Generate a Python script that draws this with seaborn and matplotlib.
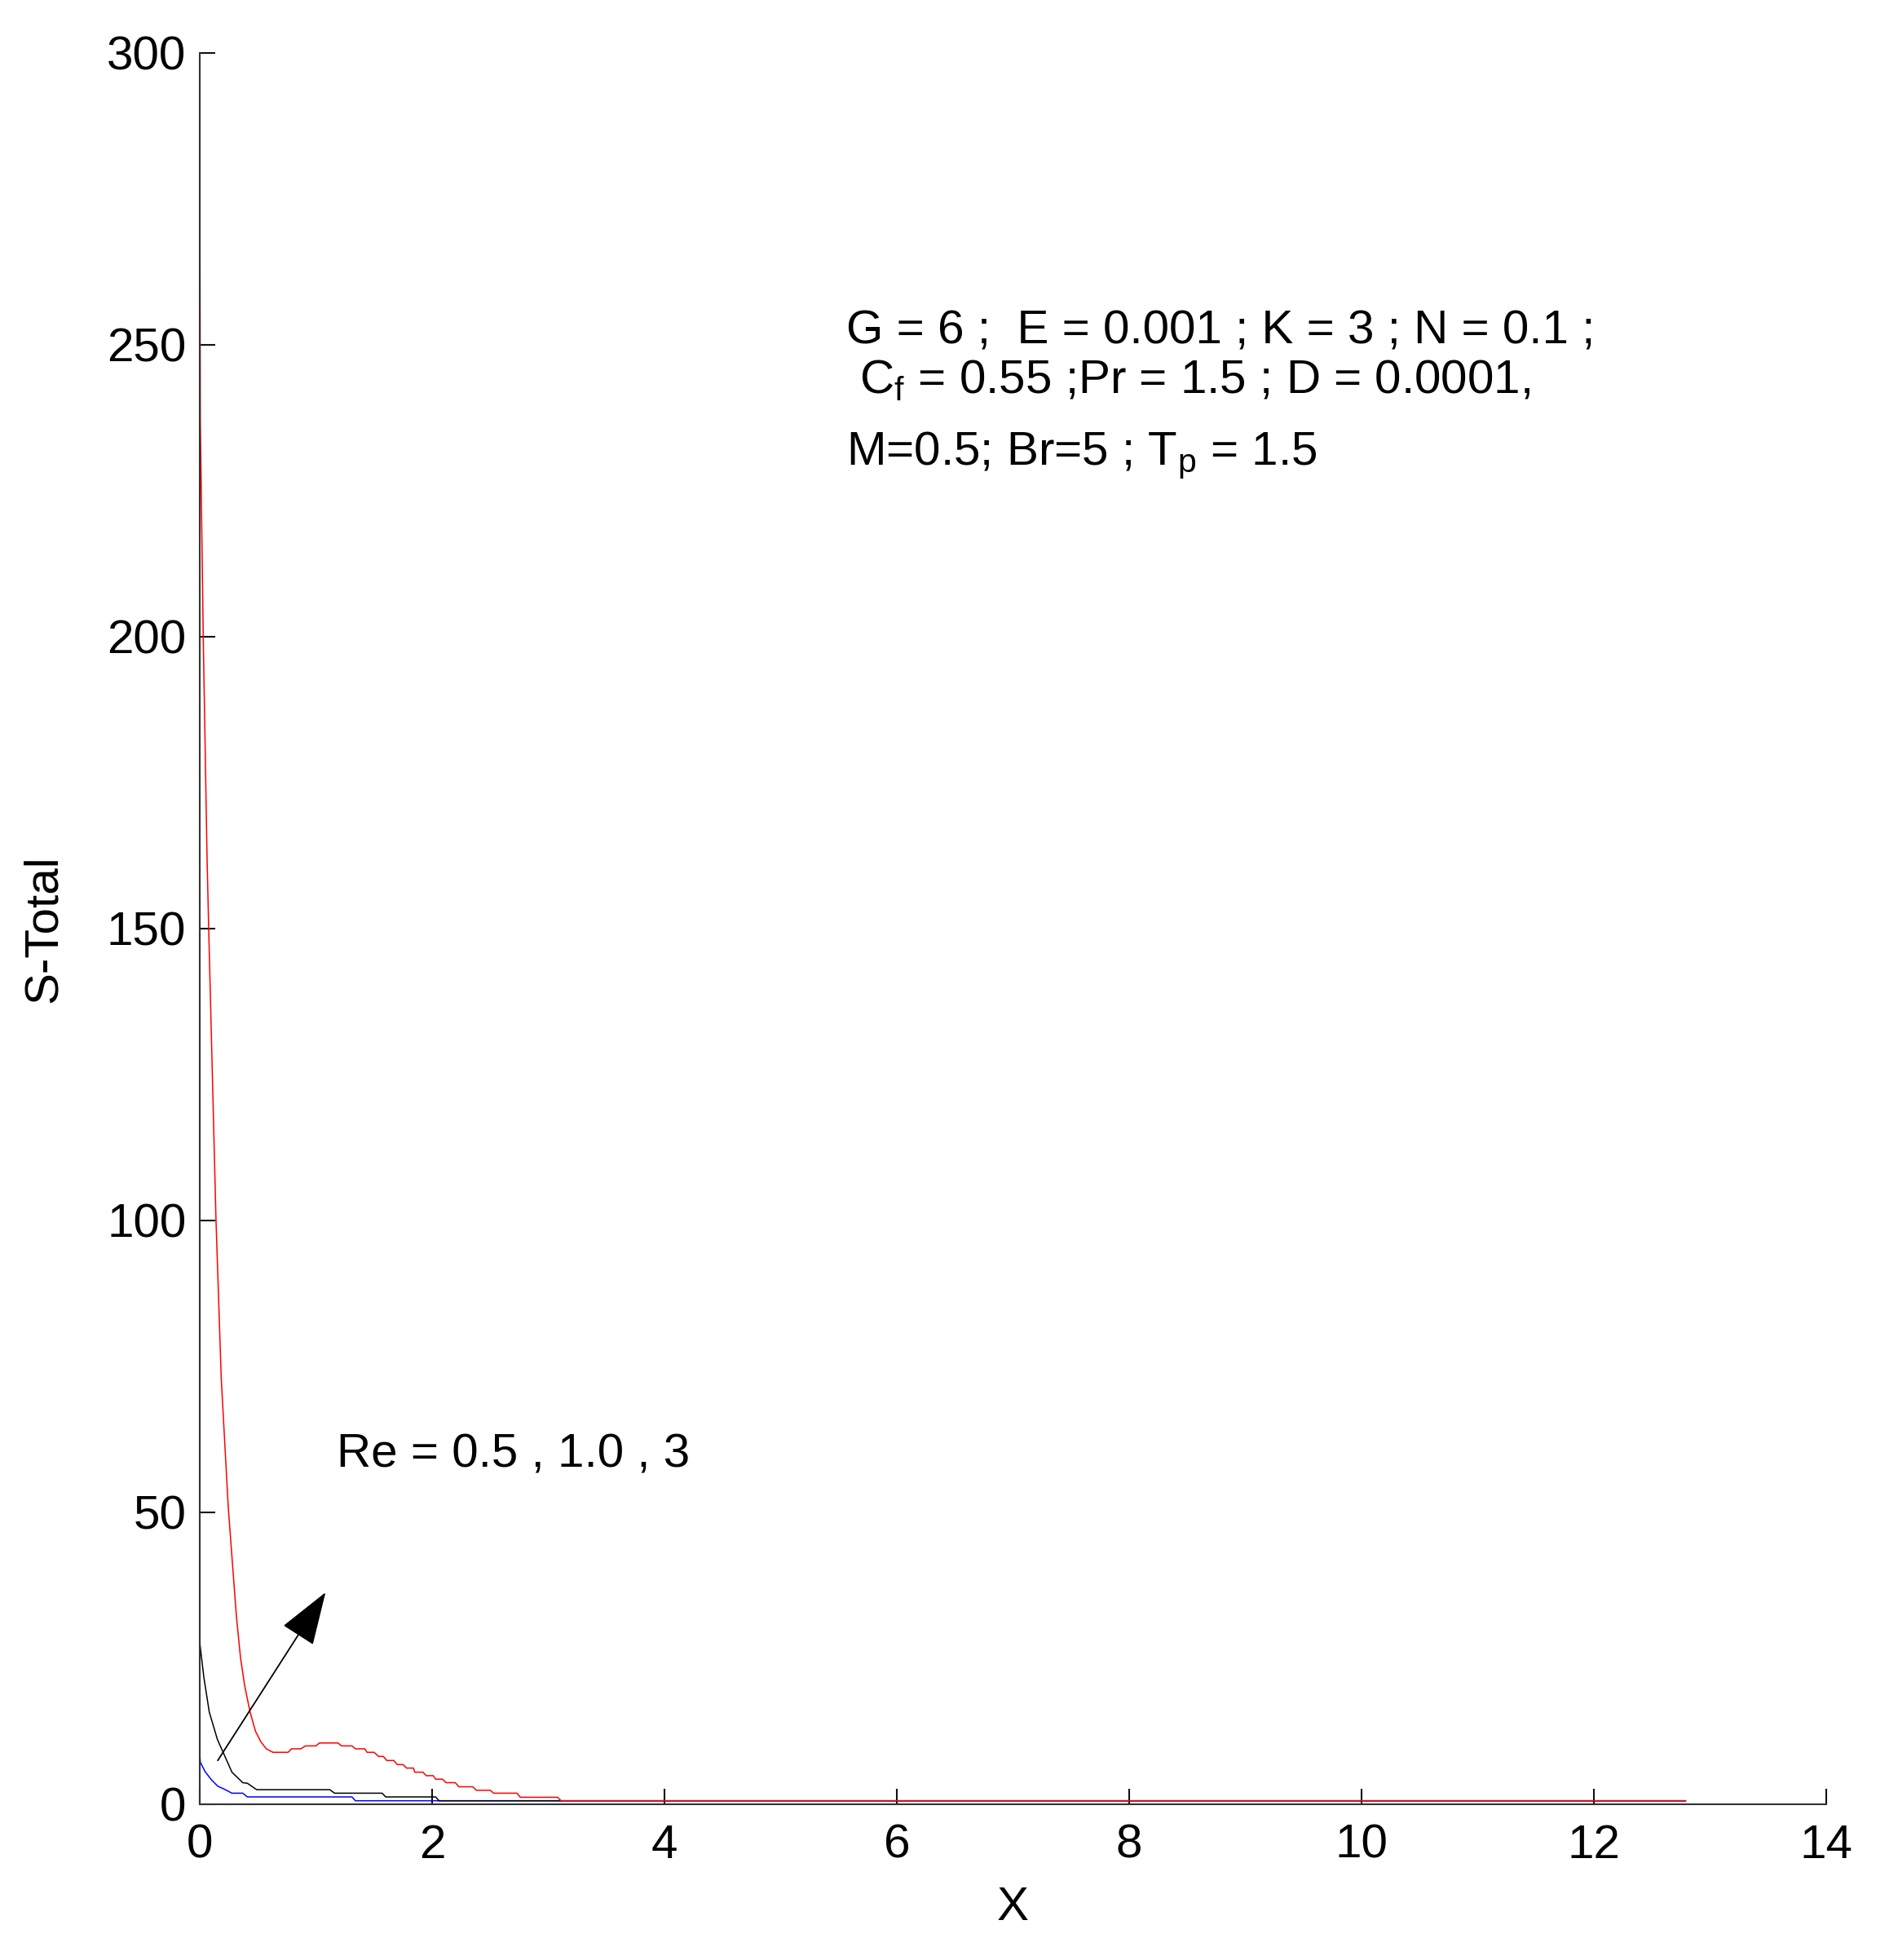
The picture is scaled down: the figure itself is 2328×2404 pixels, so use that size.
import numpy as np
import pandas as pd
import matplotlib
matplotlib.use("Agg")
import matplotlib.pyplot as plt
import seaborn as sns

# ---- data ----
x_re05 = [0, 0.005, 0.046, 0.10, 0.155, 0.21, 0.277, 0.37, 0.41, 1.31, 1.34, 12.79]
y_re05 = [8.6, 7.2, 5.6, 4.2, 3.1, 2.6, 1.9, 1.9, 1.26, 1.26, 0.6, 0.6]

x_re10 = [0, 0.002, 0.035, 0.082, 0.152, 0.199, 0.277, 0.37, 0.41, 0.49, 1.12, 1.16, 1.57, 1.60,
          2.03, 2.06, 12.79]
y_re10 = [32.6, 27.4, 21.8, 15.8, 11.1, 9.0, 5.5, 3.7, 3.6, 2.5, 2.5, 1.9, 1.9, 1.26,
          1.26, 0.6, 0.6]

x_re3 = [0, 0.005, 0.03, 0.063, 0.077, 0.14, 0.185, 0.246, 0.281, 0.316, 0.351, 0.386, 0.433, 0.48,
         0.526, 0.573, 0.63, 0.76, 0.79, 0.87, 0.91, 1.0, 1.03, 1.19, 1.22, 1.31, 1.34, 1.42, 1.44,
         1.50, 1.54, 1.58, 1.61, 1.67, 1.70, 1.75, 1.78, 1.84, 1.85, 1.92, 1.95, 2.01, 2.03, 2.09,
         2.12, 2.20, 2.23, 2.35, 2.38, 2.50, 2.53, 2.73, 2.76, 3.08, 3.11, 12.79]
y_re3 = [284, 237, 200, 162, 150, 100, 73, 50.7, 41.4, 32.1, 25.1, 20.4, 15.8, 12.5,
         10.7, 9.5, 8.9, 8.9, 9.5, 9.5, 10.0, 10.0, 10.5, 10.5, 10.0, 10.0, 9.5, 9.5, 8.9,
         8.9, 8.2, 8.2, 7.5, 7.5, 6.8, 6.8, 6.2, 6.2, 5.5, 5.5, 4.9, 4.9, 4.3, 4.3,
         3.7, 3.7, 3.0, 3.0, 2.4, 2.4, 1.9, 1.9, 1.2, 1.2, 0.6, 0.6]

re_labels = ["0.5", "1.0", "3"]
line_colors = {"0.5": "#0000ff", "1.0": "#000000", "3": "#ff0000"}

x_ticks = [0, 2, 4, 6, 8, 10, 12, 14]
y_ticks = [0, 50, 100, 150, 200, 250, 300]

param_lines = ["G = 6 ;  E = 0.001 ; K = 3 ; N = 0.1 ;",
               r" $\mathregular{C_f}$ = 0.55 ;Pr = 1.5 ; D = 0.0001,",
               r"M=0.5; Br=5 ; $\mathregular{T_p}$ = 1.5"]
re_text = "Re = 0.5 , 1.0 , 3"

frames = []
for lab, xs, ys in zip(re_labels, [x_re05, x_re10, x_re3], [y_re05, y_re10, y_re3]):
    frames.append(pd.DataFrame({"x": xs, "y": ys, "Re": lab}))
df = pd.concat(frames, ignore_index=True)

# ---- style ----
sns.set_theme(style="white")
plt.rcParams["font.family"] = ["Liberation Sans", "DejaVu Sans"]
plt.rcParams["mathtext.fontset"] = "custom"
plt.rcParams["mathtext.rm"] = "Liberation Sans"
plt.rcParams["mathtext.it"] = "Liberation Sans"
plt.rcParams["text.color"] = "black"
plt.rcParams["axes.labelcolor"] = "black"
plt.rcParams["xtick.color"] = "black"
plt.rcParams["ytick.color"] = "black"

fig = plt.figure(figsize=(23.28, 24.04), dpi=100)
ax = fig.add_axes([245 / 2328, 1 - 2213 / 2404, (2240 - 245) / 2328, (2213 - 65) / 2404])

sns.lineplot(data=df, x="x", y="y", hue="Re", hue_order=re_labels, palette=line_colors,
             sort=False, estimator=None, legend=False, linewidth=1.1, ax=ax)

ax.set_xlim(0, 14)
ax.set_ylim(0, 300)
ax.set_xticks(x_ticks)
ax.set_yticks(y_ticks)
ax.set_xticklabels([str(t) for t in x_ticks])
ax.set_yticklabels([str(t) for t in y_ticks])

for s in ["top", "right"]:
    ax.spines[s].set_visible(False)
for s in ["left", "bottom"]:
    ax.spines[s].set_color("#333333")
    ax.spines[s].set_linewidth(1.5)

ax.tick_params(axis="both", which="major", direction="in", length=14, width=1.5,
               color="#111111", labelsize=42, labelcolor="black",
               bottom=True, left=True, top=False, right=False)
ax.tick_params(axis="x", pad=17)
ax.tick_params(axis="y", pad=12)

ax.set_xlabel("X", fontsize=42, labelpad=16, color="black")
ax.set_ylabel("S-Total", fontsize=42, labelpad=36, color="black")

# parameter text
ax.text(5.565, 250.2, param_lines[0], fontsize=42, ha="left", va="baseline", color="black")
ax.text(5.565, 241.8, param_lines[1], fontsize=42, ha="left", va="baseline", color="black")
ax.text(5.565, 229.5, param_lines[2], fontsize=42, ha="left", va="baseline", color="black")

ax.text(1.18, 57.7, re_text, fontsize=42, ha="left", va="baseline", color="black")

ax.annotate("", xy=(1.083, 36.3), xytext=(0.155, 7.5),
            arrowprops=dict(arrowstyle="-|>,head_length=2.1,head_width=0.72",
                            mutation_scale=20, color="black", lw=1.3,
                            shrinkA=0, shrinkB=0))

fig.savefig("out.png", dpi=100, facecolor="white")
